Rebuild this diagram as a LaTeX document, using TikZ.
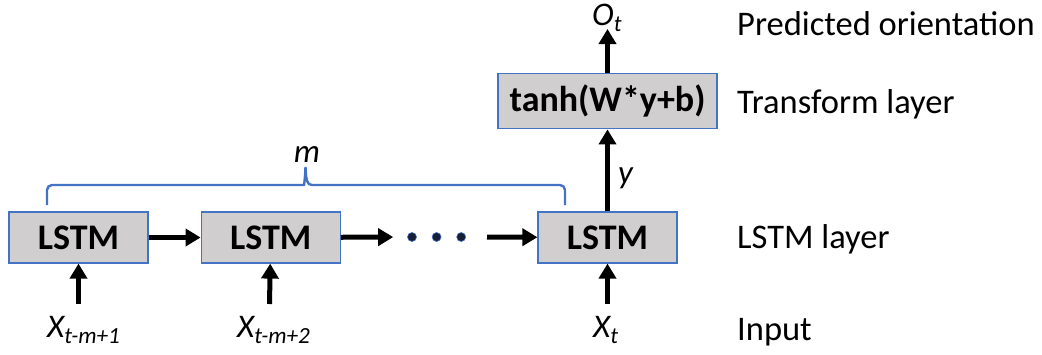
\documentclass[tikz,border=0pt]{standalone}
\usepackage{fontspec}
\setmainfont{Carlito}
\usetikzlibrary{arrows.meta}
\usetikzlibrary{positioning}
\definecolor{boxfill} {RGB}{208,206,206}
\definecolor{boxline} {RGB}{68,114,196}
\definecolor{dotfill} {RGB}{22,30,56}
\tikzset{layer box/.style={
    rectangle, fill=boxfill, draw=boxline, line width=1.2pt,
    minimum width=139pt, minimum height=51pt, inner sep=0pt,
    font=\fontsize{36}{42}\selectfont\bfseries
}}
\tikzset{wide box/.style={
    layer box, minimum width=219pt, minimum height=55pt
}}
\tikzset{dot/.style={
    circle, fill=dotfill, draw=boxline, line width=0.6pt,
    inner sep=0pt, minimum size=9pt
}}
\tikzset{var label/.style={
    inner sep=0pt, anchor=base west,
    font=\fontsize{33}{38}\selectfont\itshape
}}
\tikzset{side label/.style={
    inner sep=0pt, anchor=base west,
    font=\fontsize{34.5}{40}\selectfont
}}
\tikzset{flow/.style={
    -{Triangle[length=15pt,width=17pt]}, line width=5pt
}}
\tikzset{brace line/.style={
    draw=boxline, line width=2.4pt
}}

\begin{document}
\begin{tikzpicture}[x=1pt,y=-1pt]
            \useasboundingbox (0,0) rectangle (1042,354);

            \node (l1)   [layer box]                  at(78.5,237.5) {LSTM};
            \node (l2)   [layer box] [right=52pt of l1]              {LSTM};
            \node (l3)   [layer box]                  at(607.5,237.5) {LSTM};
            \node (tr)   [wide box]  [above=82pt of l3]               {tanh(W*y+b)};

            \node (d1)   [dot]                        at(412,237)   {};
            \node (d2)   [dot]       [right=15pt of d1]             {};
            \node (d3)   [dot]       [right=15pt of d2]             {};

            \node (x1)   [var label]  at(47,337)  {X\textsubscript{t-m+1}};
            \node (x2)   [var label]  at(237,337) {X\textsubscript{t-m+2}};
            \node (xt)   [var label]  at(593,337) {X\textsubscript{t}};
            \node (ot)   [var label]  at(592,25)  {O\textsubscript{t}};
            \node (m)    [var label, anchor=base] at(307,162) {m};

            \node (lpred)  [side label] at(737,35)  {Predicted orientation};
            \node (ltrans) [side label] at(737,113) {Transform layer};
            \node (llstm)  [side label] at(737,248) {LSTM layer};
            \node (linput) [side label] at(737,340) {Input};

            \coordinate (in1)  at(78.5,304);
            \coordinate (in2)  at(269.5,304);
            \coordinate (in3)  at(607.5,304);
            \coordinate (out)  at(607.5,29);

            % bracket over the m steps
            \coordinate (bl)  at(47,205);
            \coordinate (br)  at(565,205);
            \coordinate (tip) at(305.5,167);
            \draw [brace line] (bl) [rounded corners=5pt] -- (47,185) -- (299,185) [sharp corners]
              .. controls (304,185) and (305,180) .. (tip)
              .. controls (306,180) and (307,185) .. (312,185)
              [rounded corners=5pt] -- (565,185) -- (br);

            % edges
            \path [flow]
              (l1) edge (l2)
              (l2) edge [shorten >=14pt] (d1)
              (d3) edge [shorten <=21pt] (l3)
              (in1) edge (l1)
              (in2) edge (l2)
              (in3) edge (l3)
              (l3) edge node [var label, anchor=west, pos=0.4, xshift=8pt] {y} (tr)
              (tr) edge (out)
              ;
        \end{tikzpicture}
\end{document}
